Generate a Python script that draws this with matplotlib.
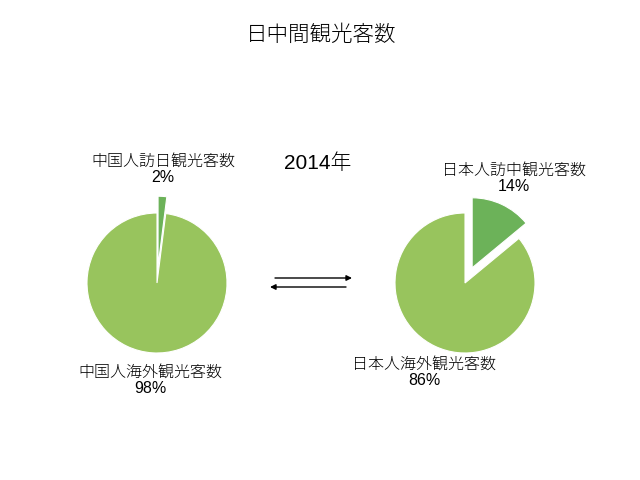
import matplotlib
matplotlib.use("Agg")
import matplotlib.pyplot as plt

plt.rcParams['font.family'] = ['Liberation Sans', 'Noto Sans CJK JP', 'DejaVu Sans']

title = "日中間観光客数"
year_label = "2014年"

cn_labels = ["中国人訪日観光客数", "中国人海外観光客数"]
cn_values = [2, 98]

jp_labels = ["日本人訪中観光客数", "日本人海外観光客数"]
jp_values = [14, 86]

dark_green = "#6cb259"
light_green = "#98c45d"


def draw_pie(ax, values):
    ax.pie(values, colors=[dark_green, light_green], startangle=90,
           counterclock=False, explode=[0.24, 0],
           wedgeprops=dict(edgecolor="white", linewidth=0.8))
    ax.set_xlim(-1.5, 1.5)
    ax.set_ylim(-1.5, 1.5)
    ax.set_aspect("equal")
    ax.axis("off")


fig = plt.figure(figsize=(6.4, 4.8), dpi=100)

# pie axes: 1 data unit = 70 px, centred on the pie centres
w, h = 210 / 640, 210 / 480
ax1 = fig.add_axes([157 / 640 - w / 2, 1 - 283 / 480 - h / 2, w, h])
draw_pie(ax1, cn_values)
ax2 = fig.add_axes([465 / 640 - w / 2, 1 - 283 / 480 - h / 2, w, h])
draw_pie(ax2, jp_values)

fig.text(321 / 640, 1 - 35 / 480, title, ha="center", va="center",
         fontsize=15.5, fontweight="light")
fig.text(318 / 640, 1 - 163 / 480, year_label, ha="center", va="center",
         fontsize=15, fontweight="light")

fs = 11.5
kw = dict(ha="center", va="center", fontsize=fs, linespacing=1.1,
          fontweight="light")
fig.text(163 / 640, 1 - 169 / 480, f"{cn_labels[0]}\n{cn_values[0]}%", **kw)
fig.text(150 / 640, 1 - 380 / 480, f"{cn_labels[1]}\n{cn_values[1]}%", **kw)
fig.text(514 / 640, 1 - 178 / 480, f"{jp_labels[0]}\n{jp_values[0]}%", **kw)
fig.text(424 / 640, 1 - 372 / 480, f"{jp_labels[1]}\n{jp_values[1]}%", **kw)

# two-way arrows between the pies
arrow = dict(arrowstyle="-|>", color="black", lw=1, mutation_scale=8,
             shrinkA=0, shrinkB=0)
fig.add_artist(matplotlib.patches.FancyArrowPatch(
    (275 / 640, 1 - 278 / 480), (352 / 640, 1 - 278 / 480),
    transform=fig.transFigure, **arrow))
fig.add_artist(matplotlib.patches.FancyArrowPatch(
    (346 / 640, 1 - 287 / 480), (270 / 640, 1 - 287 / 480),
    transform=fig.transFigure, **arrow))

fig.savefig("out.png", dpi=100, facecolor="white")
